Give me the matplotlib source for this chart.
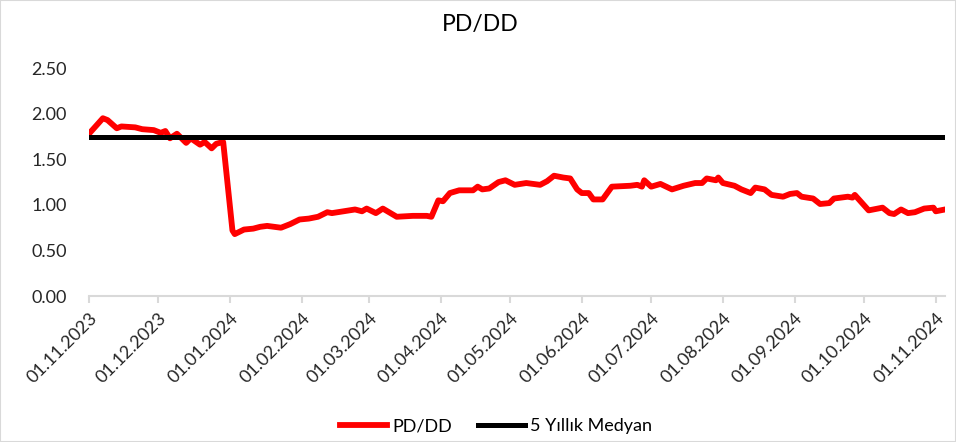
import matplotlib.pyplot as plt
import matplotlib.dates as mdates
import pandas as pd
from matplotlib.patches import Rectangle

plt.rcParams['font.family'] = ['Lato', 'DejaVu Sans']

# PD/DD values
dates = [
    '2023-11-01', '2023-11-07', '2023-11-09', '2023-11-13', '2023-11-15', '2023-11-21',
    '2023-11-24', '2023-11-29', '2023-12-02', '2023-12-04', '2023-12-06', '2023-12-09',
    '2023-12-13', '2023-12-15', '2023-12-19', '2023-12-21', '2023-12-24', '2023-12-26',
    '2023-12-29', '2024-01-02', '2024-01-03', '2024-01-07', '2024-01-11', '2024-01-14',
    '2024-01-17', '2024-01-23', '2024-01-27', '2024-01-31', '2024-02-04', '2024-02-08',
    '2024-02-12', '2024-02-14', '2024-02-19', '2024-02-24', '2024-02-27', '2024-02-29',
    '2024-03-04', '2024-03-07', '2024-03-13', '2024-03-20', '2024-03-26', '2024-03-28',
    '2024-03-31', '2024-04-02', '2024-04-05', '2024-04-09', '2024-04-15', '2024-04-17',
    '2024-04-19', '2024-04-22', '2024-04-26', '2024-04-29', '2024-05-03', '2024-05-08',
    '2024-05-14', '2024-05-17', '2024-05-20', '2024-05-24', '2024-05-27', '2024-05-30',
    '2024-06-01', '2024-06-04', '2024-06-06', '2024-06-10', '2024-06-14', '2024-06-22',
    '2024-06-25', '2024-06-27', '2024-06-28', '2024-07-01', '2024-07-05', '2024-07-10',
    '2024-07-15', '2024-07-20', '2024-07-23', '2024-07-25', '2024-07-29', '2024-07-30',
    '2024-08-01', '2024-08-06', '2024-08-09', '2024-08-13', '2024-08-15', '2024-08-19',
    '2024-08-22', '2024-08-27', '2024-08-30', '2024-09-02', '2024-09-04', '2024-09-09',
    '2024-09-12', '2024-09-16', '2024-09-18', '2024-09-24', '2024-09-26', '2024-09-27',
    '2024-10-03', '2024-10-07', '2024-10-09', '2024-10-12', '2024-10-14', '2024-10-17',
    '2024-10-20', '2024-10-23', '2024-10-27', '2024-10-31', '2024-11-01', '2024-11-05',
]
pddd = [
    1.78, 1.95, 1.93, 1.84, 1.86, 1.85,
    1.83, 1.82, 1.79, 1.81, 1.73, 1.78,
    1.68, 1.73, 1.66, 1.69, 1.62, 1.67,
    1.69, 0.72, 0.68, 0.73, 0.74, 0.76,
    0.77, 0.75, 0.79, 0.84, 0.85, 0.87,
    0.92, 0.91, 0.93, 0.95, 0.93, 0.96,
    0.91, 0.96, 0.87, 0.88, 0.88, 0.87,
    1.05, 1.04, 1.13, 1.16, 1.16, 1.20,
    1.17, 1.18, 1.25, 1.27, 1.22, 1.24,
    1.22, 1.26, 1.32, 1.30, 1.29, 1.17,
    1.13, 1.13, 1.06, 1.06, 1.20, 1.21,
    1.22, 1.20, 1.27, 1.20, 1.23, 1.17,
    1.21, 1.24, 1.24, 1.29, 1.27, 1.30,
    1.24, 1.21, 1.17, 1.13, 1.19, 1.17,
    1.11, 1.09, 1.12, 1.13, 1.09, 1.07,
    1.01, 1.02, 1.07, 1.09, 1.08, 1.11,
    0.94, 0.96, 0.97, 0.91, 0.90, 0.95,
    0.91, 0.92, 0.96, 0.97, 0.93, 0.95,
]
median_5y = 1.74

tick_dates = pd.date_range('2023-11-01', '2024-11-01', freq='MS')

df = pd.DataFrame({'date': pd.to_datetime(dates), 'pddd': pddd})

fig = plt.figure(figsize=(9.56, 4.42), dpi=100)
ax = fig.add_axes([0.0931, 0.330, 0.8954, 0.516])

ax.plot(df['date'], df['pddd'], color='#ff0000', lw=4.2, label='PD/DD', solid_joinstyle='round')
ax.plot([df['date'].iloc[0], df['date'].iloc[-1]], [median_5y, median_5y],
        color='black', lw=3.6, label='5 Yıllık Medyan')

ax.set_xlim(df['date'].iloc[0], df['date'].iloc[-1])
ax.set_ylim(0, 2.5)
ax.set_yticks([0, 0.5, 1.0, 1.5, 2.0, 2.5])
ax.yaxis.set_major_formatter(plt.FuncFormatter(lambda v, p: f'{v:.2f}'))
ax.set_xticks(tick_dates)
ax.xaxis.set_major_formatter(mdates.DateFormatter('%d.%m.%Y'))

for s in ['top', 'right', 'left']:
    ax.spines[s].set_visible(False)
ax.spines['bottom'].set_color('#d9d9d9')
ax.spines['bottom'].set_linewidth(1.5)

ax.tick_params(axis='y', length=0, pad=16, labelsize=13, labelcolor='#262626')
ax.tick_params(axis='x', length=5, width=1.5, color='#d9d9d9', pad=5,
               labelsize=13, labelcolor='#262626')
for lbl in ax.get_xticklabels():
    lbl.set_rotation(45)
    lbl.set_ha('right')
    lbl.set_rotation_mode('anchor')

fig.text(0.502, 0.945, 'PD/DD', ha='center', va='center', fontsize=16.5, color='#000000')

fig.legend(loc='center', bbox_to_anchor=(0.519, 0.036), ncol=2, frameon=False,
           fontsize=13, handlelength=2.6, columnspacing=1.4, handletextpad=0.3)

fig.patches.append(Rectangle((0, 0), 1, 1, transform=fig.transFigure, fill=False,
                             edgecolor='#d9d9d9', lw=1.5))

fig.savefig('out.png', dpi=100)
